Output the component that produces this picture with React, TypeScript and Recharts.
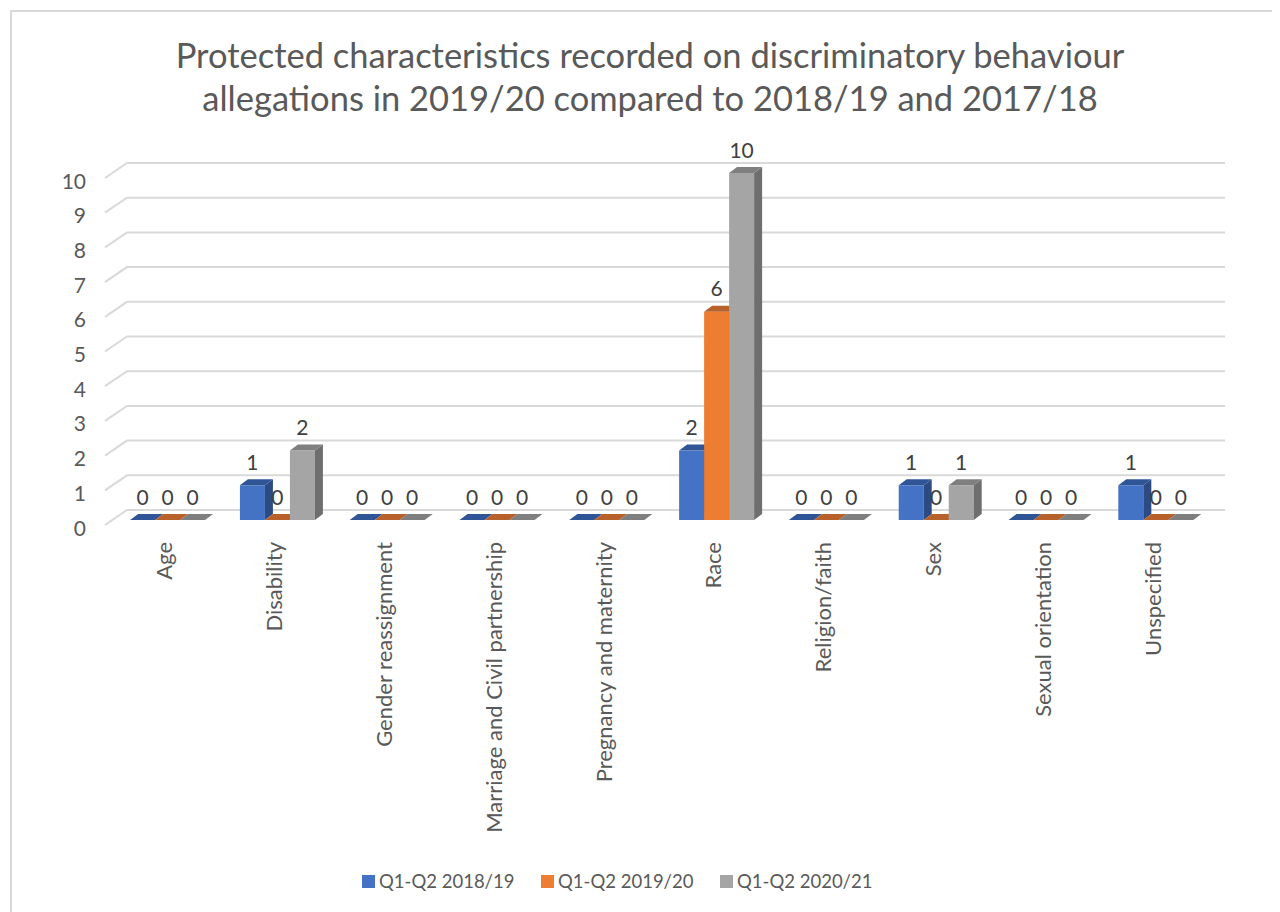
import React from 'react';
import {
    BarChart,
    Bar,
    XAxis,
    YAxis,
    CartesianGrid,
    Legend,
    LabelList
} from 'recharts';

const categories = [
    'Age',
    'Disability',
    'Gender reassignment',
    'Marriage and Civil partnership',
    'Pregnancy and maternity',
    'Race',
    'Religion/faith',
    'Sex',
    'Sexual orientation',
    'Unspecified'
];
const q2018 = [0, 1, 0, 0, 0, 2, 0, 1, 0, 1];
const q2019 = [0, 0, 0, 0, 0, 6, 0, 0, 0, 0];
const q2020 = [0, 2, 0, 0, 0, 10, 0, 1, 0, 0];
const seriesNames = ['Q1-Q2 2018/19', 'Q1-Q2 2019/20', 'Q1-Q2 2020/21'];
const yTicks = [0, 1, 2, 3, 4, 5, 6, 7, 8, 9, 10];

const FONT = 'Lato, "Open Sans", sans-serif';
const TEXT = '#595959';
const GRID = '#D9D9D9';

// front, top, side
const palette = [
    { front: '#4472C4', top: '#2F5597', side: '#2B4B82' },
    { front: '#ED7D31', top: '#B9612A', side: '#A4541F' },
    { front: '#A5A5A5', top: '#7F7F7F', side: '#6E6E6E' }
];

// depth of the 3D box
const DX = 8;
const DY = 6;

const chartData = categories.map((name, i) => ({
    name,
    a: q2018[i],
    b: q2019[i],
    c: q2020[i]
}));

const makeShape = (idx: number) => (props: any) => {
    const { x, y, width, height } = props;
    const c = palette[idx];
    const h = Math.max(0, height || 0);
    const top = `M${x},${y} L${x + DX},${y - DY} L${x + width + DX},${y - DY} L${x + width},${y} Z`;
    const side = `M${x + width},${y} L${x + width + DX},${y - DY} L${x + width + DX},${y + h - DY} L${x + width},${y + h} Z`;
    return (
        <g>
            {h > 0 && <rect x={x} y={y} width={width} height={h} fill={c.front} />}
            {h > 0 && <path d={side} fill={c.side} />}
            <path d={top} fill={c.top} />
        </g>
    );
};

const renderLabel = (props: any) => {
    const vb = props.viewBox || {};
    const x = props.x ?? vb.x;
    const y = props.y ?? vb.y;
    const width = props.width ?? vb.width;
    return (
        <text
            x={x + width / 2}
            y={y - 24}
            textAnchor="middle"
            dominantBaseline="central"
            fill="#404040"
            fontSize={21}
            fontFamily={FONT}
        >
            {props.value}
        </text>
    );
};

const gridLine = (p: any) => {
    const { x1, x2, y1, key } = p;
    const d = `M${x1 - 7},${y1 + 5} L${x1 + 15},${y1 - 10} L${x2 + 15},${y1 - 10}`;
    return <path key={key} d={d} stroke={GRID} strokeWidth={2} fill="none" />;
};

const YTick = (p: any) => (
    <text
        x={p.x - 26}
        y={p.y + 7}
        textAnchor="end"
        dominantBaseline="central"
        fill={TEXT}
        fontSize={21}
        fontFamily={FONT}
    >
        {p.payload.value}
    </text>
);

const XTick = (p: any) => (
    <text
        transform={`translate(${p.x - 3},${p.y + 22}) rotate(-90)`}
        textAnchor="end"
        dominantBaseline="central"
        fill={TEXT}
        fontSize={22}
        fontFamily={FONT}
    >
        {p.payload.value}
    </text>
);

const LegendContent = () => (
    <div style={{ display: 'flex', paddingLeft: 354, fontFamily: FONT, fontSize: 18.5, color: TEXT }}>
        {seriesNames.map((s, i) => (
            <div key={s} style={{ width: 179, display: 'flex', alignItems: 'center', flex: 'none' }}>
                <span style={{ width: 13, height: 13, background: palette[i].front, marginRight: 4, display: 'inline-block' }} />
                <span>{s}</span>
            </div>
        ))}
    </div>
);

const App: React.FC = () => {
    return (
        <div style={{ position: 'relative', width: 1272, height: 904, background: '#fff', overflow: 'hidden' }}>
            <div
                style={{
                    position: 'absolute',
                    left: 2,
                    top: 2,
                    width: 1300,
                    height: 940,
                    borderLeft: `2px solid ${GRID}`,
                    borderTop: `2px solid ${GRID}`
                }}
            />
            <div
                style={{
                    position: 'absolute',
                    left: 6,
                    top: 25,
                    width: 1272,
                    textAlign: 'center',
                    fontFamily: FONT,
                    fontSize: 34.5,
                    lineHeight: '43px',
                    color: TEXT
                }}
            >
                Protected characteristics recorded on discriminatory behaviour
                <br />
                allegations in 2019/20 compared to 2018/19 and 2017/18
            </div>
            <BarChart
                width={1272}
                height={904}
                data={chartData}
                margin={{ top: 165, right: 70, bottom: 92, left: 44 }}
                barCategoryGap="16.5%"
                barGap={0}
                style={{ position: 'absolute', left: 0, top: 0 }}
            >
                <CartesianGrid vertical={false} horizontal={gridLine} />
                <XAxis
                    dataKey="name"
                    interval={0}
                    height={300}
                    tickLine={false}
                    axisLine={false}
                    tickSize={0}
                    tickMargin={0}
                    tick={<XTick />}
                />
                <YAxis
                    domain={[0, 10]}
                    ticks={yTicks}
                    width={60}
                    tickLine={false}
                    axisLine={false}
                    tickSize={0}
                    tickMargin={0}
                    tick={<YTick />}
                />
                <Legend
                    layout="horizontal"
                    verticalAlign="middle"
                    align="center"
                    wrapperStyle={{ top: 862, left: 0, width: 1272, height: 24 }}
                    content={<LegendContent />}
                />
                <Bar dataKey="a" name={seriesNames[0]} shape={makeShape(0)} isAnimationActive={false}>
                    <LabelList dataKey="a" content={renderLabel} />
                </Bar>
                <Bar dataKey="b" name={seriesNames[1]} shape={makeShape(1)} isAnimationActive={false}>
                    <LabelList dataKey="b" content={renderLabel} />
                </Bar>
                <Bar dataKey="c" name={seriesNames[2]} shape={makeShape(2)} isAnimationActive={false}>
                    <LabelList dataKey="c" content={renderLabel} />
                </Bar>
            </BarChart>
        </div>
    );
};

export default App;
